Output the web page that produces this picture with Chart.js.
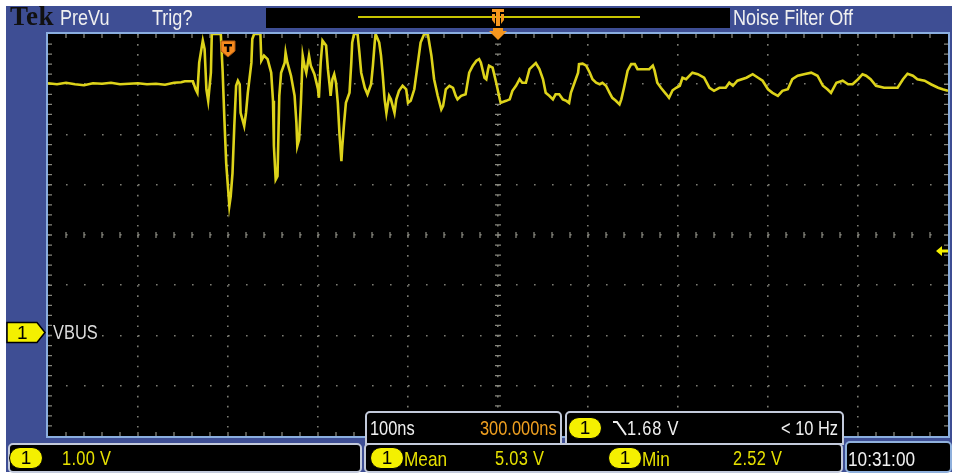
<!DOCTYPE html>
<html>
<head>
<meta charset="utf-8">
<script src="https://cdn.jsdelivr.net/npm/chart.js"></script>
<style>
  body { margin: 0; background: #fff; }
  #wrap { position: relative; width: 955px; height: 474px; overflow: hidden;
    font-family: "Liberation Sans", Arial, sans-serif; }
  #frame { position: absolute; left: 6px; top: 6px; width: 946px; height: 466px; background: #3e4e94; }
  #topbox { position: absolute; left: 266px; top: 8px; width: 464px; height: 20px; background: #000; }
  #topline { position: absolute; left: 358px; top: 16px; width: 282px; height: 2px; background: #c8c400; }
  canvas { position: absolute; left: 0; top: 0; z-index: 1; }
  .ov { position: absolute; z-index: 2; }
  .t { position: absolute; z-index: 3; white-space: nowrap; line-height: 1;
    transform: scaleX(0.82); transform-origin: 0 0; }
  .box { position: absolute; z-index: 2; background: #000; border: 2px solid #c3cadb; box-sizing: border-box; }
  .badge { position: absolute; z-index: 3; width: 34px; height: 22px; box-sizing: border-box;
    background: #f4f000; border: 1.5px solid #000; border-radius: 11px; color: #000;
    font-size: 19px; line-height: 20px; text-align: center; }
  .y { color: #e6e000; }
  .w { color: #f0f0f0; }
</style>
</head>
<body>
<div id="wrap">
  <div id="frame"></div>
  <div id="topbox"></div>
  <div id="topline"></div>
  <canvas id="scope" width="955" height="474"></canvas>

  <div class="t" style="left:10px;top:3px;font-family:'Liberation Serif',serif;font-weight:bold;font-size:27px;letter-spacing:0.5px;color:#111;transform:none;">Tek</div>
  <div class="t w" style="left:60px;top:7px;font-size:22px;">PreVu</div>
  <div class="t w" style="left:152px;top:7px;font-size:22px;">Trig?</div>
  <div class="t w" style="left:733px;top:7px;font-size:22px;">Noise Filter Off</div>

  <div class="t" style="left:17px;top:323px;font-size:19px;color:#000;transform:none;">1</div>
  <div class="t" style="left:53px;top:322px;font-size:20px;color:#dcdcdc;">VBUS</div>

  <!-- readouts inside the graticule -->
  <div class="box" style="left:365px;top:411px;width:197px;height:34px;border-radius:5px 5px 0 0;"></div>
  <div class="box" style="left:565px;top:411px;width:279px;height:34px;border-radius:5px 5px 0 0;"></div>
  <div class="t w" style="left:370px;top:418px;font-size:20px;">100ns</div>
  <div class="t" style="left:480px;top:418px;font-size:20px;color:#f0a020;">300.000ns</div>
  <div class="badge" style="left:568px;top:417px;">1</div>
  <svg class="ov" style="left:612px;top:420px;z-index:3;" width="16" height="17"><polyline points="1,2 5,2 14,15" fill="none" stroke="#f0f0f0" stroke-width="2"/></svg>
  <div class="t w" style="left:627px;top:418px;font-size:20px;letter-spacing:1px;">1.68 V</div>
  <div class="t w" style="left:781px;top:418px;font-size:20px;">&lt; 10 Hz</div>

  <!-- bottom bar -->
  <div class="box" style="left:8px;top:443px;width:354px;height:30px;border-radius:5px;"></div>
  <div class="box" style="left:364px;top:443px;width:479px;height:30px;border-radius:5px;"></div>
  <div class="box" style="left:845px;top:441px;width:107px;height:32px;border-radius:5px;border-color:#8fb0dc;"></div>
  <div class="badge" style="left:9px;top:447px;">1</div>
  <div class="t y" style="left:62px;top:448px;font-size:20px;letter-spacing:0.4px;">1.00 V</div>
  <div class="badge" style="left:370px;top:447px;">1</div>
  <div class="t y" style="left:404px;top:448px;font-size:21px;">Mean</div>
  <div class="t y" style="left:495px;top:448px;font-size:20px;letter-spacing:0.4px;">5.03 V</div>
  <div class="badge" style="left:608px;top:447px;">1</div>
  <div class="t y" style="left:642px;top:448px;font-size:21px;">Min</div>
  <div class="t y" style="left:733px;top:448px;font-size:20px;letter-spacing:0.4px;">2.52 V</div>
  <div class="t w" style="left:848px;top:448px;font-size:21px;">10:31:00</div>
</div>

<script>
// time in ns relative to trigger, volts on channel 1
const timesNs = [
  -200, -190, -180, -170, -160, -150, -140, -130, -120, -110, -100, -90, -80, -70, -60,
  -52, -48, -39, -36, -34, -32, -28, -26, -24, -22, -19, -18, -8, -6, -4, -2,
  1.5, 3, 5, 7, 9, 11, 13, 14, 18, 20, 22, 26, 27, 29, 36, 37, 40, 44, 48, 50,
  51, 53, 55, 57, 59, 63, 64, 66, 70, 74, 76, 77, 79, 81, 83, 85, 87, 90, 92, 96,
  100, 101, 103, 105, 109, 111, 113, 114, 116, 118, 120, 122, 124, 126, 127, 129, 131, 135, 137, 138,
  140, 144, 146, 148, 152, 155, 159, 161, 163, 164, 168, 170, 172, 174, 176, 179, 181, 185, 187, 190,
  194, 198, 200, 203, 207, 211, 214, 218, 222, 226, 229, 233, 237, 239, 242, 246, 250, 253, 255, 259,
  264, 268, 272, 276, 279, 281, 285, 287, 289, 290, 294, 298, 302, 303, 309, 313, 316, 320, 324, 327,
  331, 335, 339, 342, 346, 350, 353, 357, 361, 364, 368, 372, 376, 379, 381, 385, 389, 390, 394, 398,
  402, 405, 409, 413, 416, 420, 424, 427, 431, 435, 437, 440, 444, 448, 452, 455, 463, 468, 472, 474,
  477, 481, 487, 490, 494, 498, 502, 505, 509, 516, 522, 529, 535, 540, 546, 553, 557, 561, 566, 576,
  583, 589, 594, 600, 605, 611, 616, 622, 627, 633, 640, 648, 655, 661, 666, 670, 676, 683, 689, 694,
  700, 705, 709, 714, 720, 729, 739, 744, 750, 755, 761, 766, 774, 781, 789, 794, 800
];
const vbusVolts = [
  5.02, 5.00, 5.03, 5.00, 4.98, 5.02, 5.01, 5.03, 5.00, 5.01, 5.02, 5.00, 5.01, 4.99, 5.03,
  5.04, 5.06, 5.06, 4.90, 4.83, 5.43, 5.87, 5.70, 4.90, 4.67, 5.23, 6.00, 6.00, 5.27, 4.30, 3.43,
  2.58, 2.77, 3.23, 4.17, 4.97, 5.07, 5.00, 4.43, 4.17, 4.43, 4.83, 5.43, 5.90, 6.00, 6.00, 5.47, 5.57, 5.50, 5.23, 4.67,
  3.77, 3.10, 3.17, 4.77, 5.23, 5.43, 5.63, 5.43, 5.17, 4.77, 4.23, 3.77, 3.90, 4.63, 5.57, 5.37, 5.23, 5.57, 5.37, 5.20,
  4.90, 4.73, 5.43, 5.87, 5.77, 5.30, 4.97, 4.77, 5.10, 5.20, 5.03, 4.63, 3.97, 3.47, 3.77, 4.23, 4.63, 4.83, 5.43, 5.83,
  6.00, 6.00, 5.63, 5.23, 4.93, 4.80, 5.00, 5.37, 5.83, 6.00, 5.83, 5.57, 5.17, 4.70, 4.43, 4.77, 4.70, 4.43, 4.70, 4.87,
  4.97, 4.90, 4.63, 4.67, 4.90, 5.43, 5.83, 6.00, 6.00, 5.57, 5.10, 4.77, 4.50, 4.57, 4.90, 4.97, 4.93, 4.77, 4.70, 4.77,
  4.80, 5.23, 5.37, 5.47, 5.50, 5.43, 5.13, 5.10, 5.30, 5.37, 5.33, 5.03, 4.70, 4.63, 4.67, 4.70, 4.87, 4.97, 5.10, 5.03,
  5.03, 5.30, 5.37, 5.42, 5.30, 5.10, 4.83, 4.77, 4.70, 4.80, 4.80, 4.70, 4.67, 4.63, 4.83, 5.03, 5.23, 5.40, 5.41, 5.37,
  5.23, 5.10, 5.03, 5.00, 5.03, 4.97, 4.83, 4.73, 4.67, 4.60, 4.70, 4.93, 5.27, 5.40, 5.40, 5.30, 5.30, 5.30, 5.37, 5.27,
  5.03, 4.93, 4.80, 4.73, 4.88, 4.93, 4.97, 5.13, 5.10, 5.23, 5.20, 5.13, 4.93, 4.87, 4.93, 4.93, 5.03, 4.97, 5.07, 5.13,
  5.20, 5.13, 5.07, 4.90, 4.83, 4.77, 4.87, 4.90, 5.10, 5.17, 5.20, 5.23, 5.17, 4.97, 4.90, 4.83, 5.03, 5.07, 5.00, 5.00,
  5.10, 5.20, 5.17, 5.10, 4.97, 4.93, 4.93, 4.93, 5.10, 5.21, 5.17, 5.10, 5.07, 5.00, 4.93, 4.90, 4.87
];
const xTicksNs = [-200, -100, 0, 100, 200, 300, 400, 500, 600, 700, 800];
const yTicksV = [-2, -1, 0, 1, 2, 3, 4, 5, 6];
const triggerLevel = 1.68;
const centerTime = 300;

const points = timesNs.map((t, i) => ({ x: t, y: vbusVolts[i] }));

const scopeDecor = {
  id: 'scopeDecor',
  beforeDraw(chart) {
    const { ctx, chartArea: a } = chart;
    ctx.save();
    ctx.fillStyle = '#000';
    ctx.fillRect(a.left, a.top, a.right - a.left, a.bottom - a.top);
    ctx.restore();
  },
  beforeDatasetsDraw(chart) {
    // minor division ticks on the centre lines and the edges
    const { ctx, chartArea: a, scales: { x, y } } = chart;
    const cx = x.getPixelForValue(centerTime), cy = y.getPixelForValue(2);
    const dx = (a.right - a.left) / 50, dy = (a.bottom - a.top) / 40;
    ctx.save();
    ctx.strokeStyle = '#85857c';
    ctx.lineWidth = 1.3;
    ctx.beginPath();
    for (let i = 1; i < 50; i++) {
      const px = a.left + i * dx;
      ctx.moveTo(px, cy - 3); ctx.lineTo(px, cy + 3);
      ctx.moveTo(px, a.top); ctx.lineTo(px, a.top + 4);
      ctx.moveTo(px, a.bottom); ctx.lineTo(px, a.bottom - 4);
    }
    for (let i = 1; i < 40; i++) {
      const py = a.top + i * dy;
      ctx.moveTo(cx - 3, py); ctx.lineTo(cx + 3, py);
      ctx.moveTo(a.left, py); ctx.lineTo(a.left + 4, py);
      ctx.moveTo(a.right, py); ctx.lineTo(a.right - 4, py);
    }
    ctx.stroke();
    ctx.restore();
  },
  afterDatasetsDraw(chart) {
    const { ctx, chartArea: a, scales: { x, y } } = chart;
    ctx.save();
    // graticule border
    ctx.strokeStyle = '#8aaee0';
    ctx.lineWidth = 2;
    ctx.strokeRect(a.left - 1, a.top - 1, a.right - a.left + 2, a.bottom - a.top + 2);

    // trigger position marker (T)
    const tx = x.getPixelForValue(0), tt = a.top + 7;
    ctx.beginPath();
    ctx.moveTo(tx - 7, tt); ctx.lineTo(tx + 7, tt); ctx.lineTo(tx + 7, tt + 10);
    ctx.lineTo(tx, tt + 16); ctx.lineTo(tx - 7, tt + 10); ctx.closePath();
    ctx.fillStyle = '#f58a1e'; ctx.fill();
    ctx.strokeStyle = '#b05a10'; ctx.lineWidth = 1; ctx.stroke();
    ctx.fillStyle = '#000';
    ctx.fillRect(tx - 4, tt + 3, 8, 2.5);
    ctx.fillRect(tx - 1.2, tt + 3, 2.5, 8);

    // horizontal position marker in the record bar
    const cx = x.getPixelForValue(centerTime);
    ctx.fillStyle = '#f5961e';
    ctx.beginPath();
    ctx.moveTo(cx - 9, a.top - 3); ctx.lineTo(cx + 9, a.top - 3); ctx.lineTo(cx, a.top + 6); ctx.closePath();
    ctx.fill();
    ctx.fillRect(cx - 6, 9, 12, 3);
    ctx.fillRect(cx - 2, 9, 4, 17);
    ctx.beginPath();
    ctx.moveTo(cx - 6, 14); ctx.lineTo(cx - 3, 14); ctx.lineTo(cx - 3, 24); ctx.lineTo(cx - 6, 20); ctx.closePath();
    ctx.moveTo(cx + 6, 14); ctx.lineTo(cx + 3, 14); ctx.lineTo(cx + 3, 24); ctx.lineTo(cx + 6, 20); ctx.closePath();
    ctx.fill();
    ctx.fillRect(cx - 5, a.top - 6, 10, 4);

    // trigger level arrow on the right edge
    const ly = y.getPixelForValue(triggerLevel);
    ctx.fillStyle = '#f4f000';
    ctx.beginPath();
    ctx.moveTo(a.right - 12, ly); ctx.lineTo(a.right - 6, ly - 5); ctx.lineTo(a.right - 6, ly - 1.5);
    ctx.lineTo(a.right, ly - 1.5); ctx.lineTo(a.right, ly + 1.5); ctx.lineTo(a.right - 6, ly + 1.5);
    ctx.lineTo(a.right - 6, ly + 5); ctx.closePath();
    ctx.fill();

    // channel 1 ground marker
    const gy = y.getPixelForValue(0) - 3;
    ctx.beginPath();
    ctx.moveTo(7, gy - 10); ctx.lineTo(37, gy - 10); ctx.lineTo(45, gy);
    ctx.lineTo(37, gy + 10); ctx.lineTo(7, gy + 10); ctx.closePath();
    ctx.fillStyle = '#f4f000'; ctx.fill();
    ctx.strokeStyle = '#000'; ctx.lineWidth = 1.5; ctx.stroke();
    ctx.restore();
  }
};

new Chart(document.getElementById('scope'), {
  type: 'line',
  data: {
    datasets: [{
      label: 'VBUS',
      data: points,
      borderColor: '#ddd31a',
      borderWidth: 2.6,
      pointRadius: 0,
      tension: 0,
      fill: false
    }]
  },
  options: {
    responsive: false,
    animation: false,
    events: [],
    layout: { padding: { left: 48, top: 34, right: 7, bottom: 38 } },
    plugins: { legend: { display: false }, tooltip: { enabled: false } },
    scales: {
      x: {
        type: 'linear',
        min: xTicksNs[0],
        max: xTicksNs[xTicksNs.length - 1],
        afterBuildTicks: (s) => { s.ticks = xTicksNs.map(v => ({ value: v })); },
        ticks: { display: false },
        grid: {
          drawTicks: false,
          lineWidth: 1.6,
          color: (c) => (c.index === 0 || c.index === xTicksNs.length - 1) ? 'rgba(0,0,0,0)' : '#7c7c74'
        },
        border: { display: false, dash: [1.6, 8.45] }
      },
      y: {
        min: yTicksV[0],
        max: yTicksV[yTicksV.length - 1],
        afterBuildTicks: (s) => { s.ticks = yTicksV.map(v => ({ value: v })); },
        ticks: { display: false },
        grid: {
          drawTicks: false,
          lineWidth: 1.6,
          color: (c) => (c.index === 0 || c.index === yTicksV.length - 1) ? 'rgba(0,0,0,0)' : '#7c7c74'
        },
        border: { display: false, dash: [1.6, 16.4] }
      }
    }
  },
  plugins: [scopeDecor]
});
</script>
</body>
</html>
